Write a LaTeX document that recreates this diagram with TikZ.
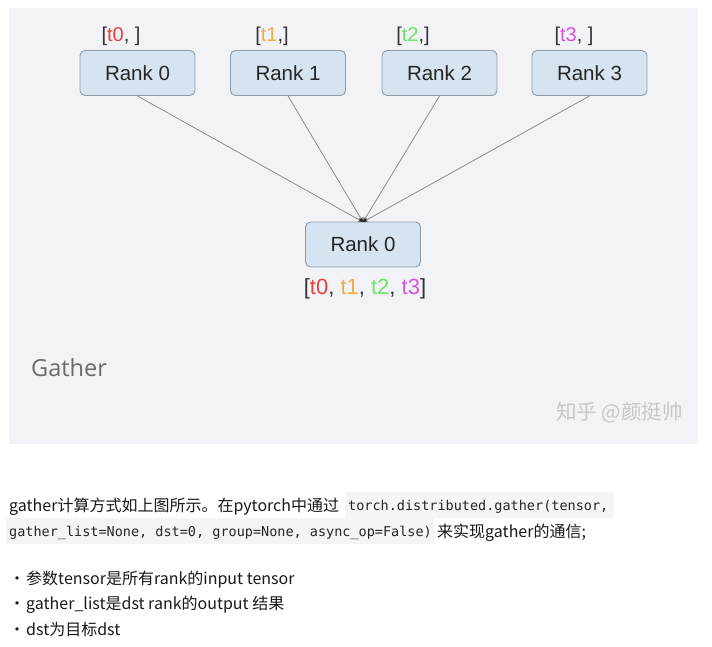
\documentclass[tikz,border=0pt]{standalone}
\usepackage{fontspec}
\setmainfont{Liberation Sans}
\newfontfamily\cjk{Noto Sans CJK SC}
\newfontfamily\codefont{DejaVu Sans Mono}
\newfontfamily\gfont{Open Sans}
\usetikzlibrary{arrows.meta}
\definecolor{panel}{HTML}{F2F3F7}
\definecolor{boxfill}{HTML}{D6E4F1}
\definecolor{boxline}{HTML}{8E9CAA}
\definecolor{cA}{HTML}{E5433B}
\definecolor{cB}{HTML}{EDAE45}
\definecolor{cC}{HTML}{6FE06A}
\definecolor{cD}{HTML}{D552DF}
\definecolor{brk}{HTML}{333333}
\definecolor{codebg}{HTML}{F5F5F7}
\tikzset{
  rankbox/.style={draw=boxline, fill=boxfill, rounded corners=5pt, line width=0.9pt,
    minimum width=115pt, minimum height=45pt, font=\fontsize{20.5}{22}\selectfont, text=black!85},
  tag/.style={font=\fontsize{20}{22}\selectfont, text=brk, inner sep=0pt},
  link/.style={draw=black!45, line width=0.8pt, -{Stealth[length=5pt,width=4pt,color=black!85]}},
  body/.style={anchor=base west, inner sep=0pt, font=\cjk\fontsize{16}{18}\selectfont, text=black!90},
  code/.style={anchor=base west, inner sep=0pt, font=\codefont\fontsize{13.5}{15}\selectfont, text=black!85}
}
\begin{document}
\begin{tikzpicture}[x=1pt,y=-1pt]
\useasboundingbox (0,0) rectangle (712,646);
\fill[white] (0,0) rectangle (712,646);
\fill[panel] (9,8) rectangle (698,444);
% top ranks
\node[rankbox] (r0) at (137.5,73) {Rank 0};
\node[rankbox] (r1) at (288,73) {Rank 1};
\node[rankbox] (r2) at (439.5,73) {Rank 2};
\node[rankbox] (r3) at (589.5,73) {Rank 3};
\node[rankbox] (d0) at (363,244.5) {Rank 0};
% tags
\node[tag] (l0) at (121,36) {[\textcolor{cA}{t0}, ]};
\node[tag] (l1) at (272,36) {[\textcolor{cB}{t1},]};
\node[tag] (l2) at (413,36) {[\textcolor{cC}{t2},]};
\node[tag] (l3) at (574,36) {[\textcolor{cD}{t3}, ]};
\node[tag, font=\fontsize{22}{24}\selectfont] (ld) at (365,289) {[\textcolor{cA}{t0}, \textcolor{cB}{t1}, \textcolor{cC}{t2}, \textcolor{cD}{t3}]};
% links
\coordinate (tip) at (363,222);
\draw[link] (r0.south) -- (tip);
\draw[link] (r1.south) -- (tip);
\draw[link] (r2.south) -- (tip);
\draw[link] (r3.south) -- (tip);
% captions
\node[anchor=west, inner sep=0pt, font=\gfont\fontsize{23.5}{26}\selectfont, text=black!58] (gt) at (31,368) {Gather};
\node[anchor=east, inner sep=0pt, font=\cjk\fontsize{20.5}{22}\selectfont, text=black!22] (wm) at (683,413) {知乎 @颜挺帅};
% body text
\fill[codebg] (345,492) rectangle (614,518);
\fill[codebg] (6,518) rectangle (434,544);
\node[body] (p1) at (9,511) {gather计算方式如上图所示。在pytorch中通过};
\node[code] (c1) at (348,510) {torch.distributed.gather(tensor,};
\node[code] (c2) at (9,536) {gather\_list=None, dst=0, group=None, async\_op=False)};
\node[body] (p2) at (437,537) {来实现gather的通信;};
\node[body] (d1) at (9,584) {•};
\node[body] (d2) at (9,609) {•};
\node[body] (d3) at (9,635) {•};
\node[body] (b1) at (26,584) {参数tensor是所有rank的input tensor};
\node[body] (b2) at (26,609) {gather\_list是dst rank的output 结果};
\node[body] (b3) at (26,635) {dst为目标dst};
\end{tikzpicture}
\end{document}
